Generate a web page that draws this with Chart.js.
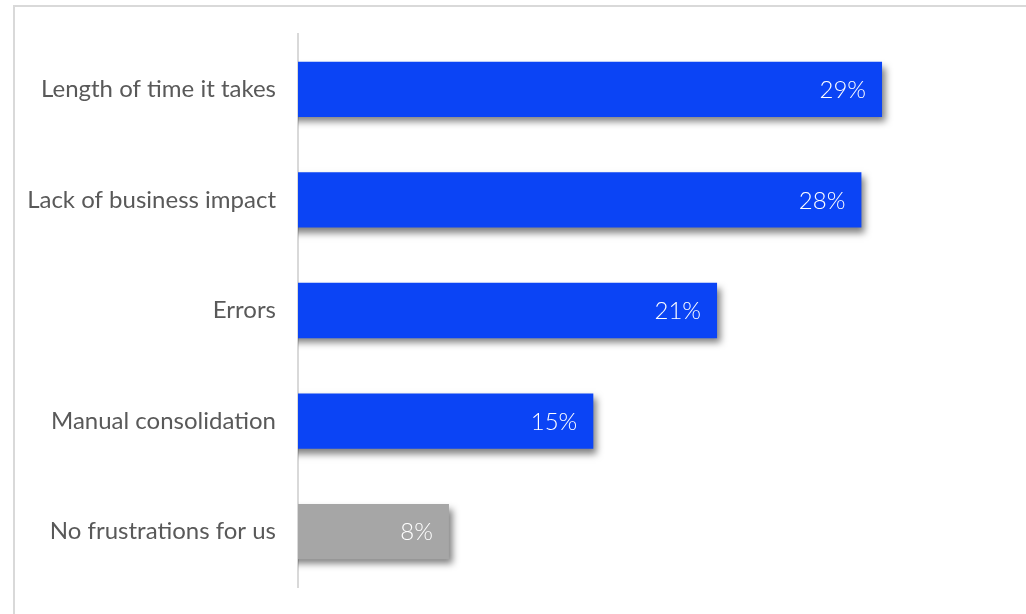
<!DOCTYPE html>
<html>
<head>
<meta charset="utf-8">
<script src="https://cdn.jsdelivr.net/npm/chart.js@4.4.0/dist/chart.umd.min.js"></script>
<style>
    html, body { margin: 0; padding: 0; background: #fff; overflow: hidden; }
    #frame {
        position: absolute; left: 13px; top: 5px;
        width: 1040px; height: 640px;
        border: 2px solid #d9d9d9; box-sizing: border-box;
    }
    #chart { position: absolute; left: 0; top: 0; }
</style>
</head>
<body>
<div id="frame"></div>
<canvas id="chart" width="1026" height="614"></canvas>
<script>
// Survey answers, share of respondents (%)
const categories = [
    'Length of time it takes',
    'Lack of business impact',
    'Errors',
    'Manual consolidation',
    'No frustrations for us'
];
const shares = [29, 28, 21, 15, 8];
const barColors = ['#0b44f5', '#0b44f5', '#0b44f5', '#0b44f5', '#a6a6a6'];

const FONT = 'Lato, "Open Sans", sans-serif';

// Soft drop shadow under each bar
const barShadow = {
    id: 'barShadow',
    beforeDatasetDraw(chart) {
        const ctx = chart.ctx;
        ctx.save();
        ctx.shadowColor = 'rgba(0, 0, 0, 0.5)';
        ctx.shadowBlur = 7;
        ctx.shadowOffsetX = 4;
        ctx.shadowOffsetY = 5;
    },
    afterDatasetDraw(chart) {
        chart.ctx.restore();
    }
};

// Value labels inside the bar ends
const valueLabels = {
    id: 'valueLabels',
    afterDatasetsDraw(chart) {
        const ctx = chart.ctx;
        const meta = chart.getDatasetMeta(0);
        ctx.save();
        ctx.font = '300 24px ' + FONT;
        ctx.fillStyle = '#ffffff';
        ctx.textAlign = 'right';
        ctx.textBaseline = 'middle';
        meta.data.forEach((bar, i) => {
            ctx.fillText(shares[i] + '%', bar.x - 16, bar.y + 1);
        });
        ctx.restore();
    }
};

new Chart(document.getElementById('chart'), {
    type: 'bar',
    data: {
        labels: categories,
        datasets: [{
            data: shares,
            backgroundColor: barColors,
            borderWidth: 0,
            barPercentage: 0.5,
            categoryPercentage: 1.0
        }]
    },
    options: {
        indexAxis: 'y',
        responsive: false,
        animation: false,
        layout: { padding: { top: 34, bottom: 27, left: 0, right: 26 } },
        plugins: {
            legend: { display: false },
            tooltip: { enabled: false }
        },
        scales: {
            x: {
                display: false,
                min: 0.68,
                max: 34.72
            },
            y: {
                grid: { display: false, drawTicks: false },
                border: { display: true, color: '#d9d9d9', width: 2 },
                ticks: {
                    color: '#595959',
                    padding: 22,
                    font: { family: FONT, size: 24 }
                },
                afterFit(scale) {
                    scale.width = 298;
                    scale.paddingTop = 0;
                    scale.paddingBottom = 0;
                }
            }
        }
    },
    plugins: [barShadow, valueLabels]
});
</script>
</body>
</html>
